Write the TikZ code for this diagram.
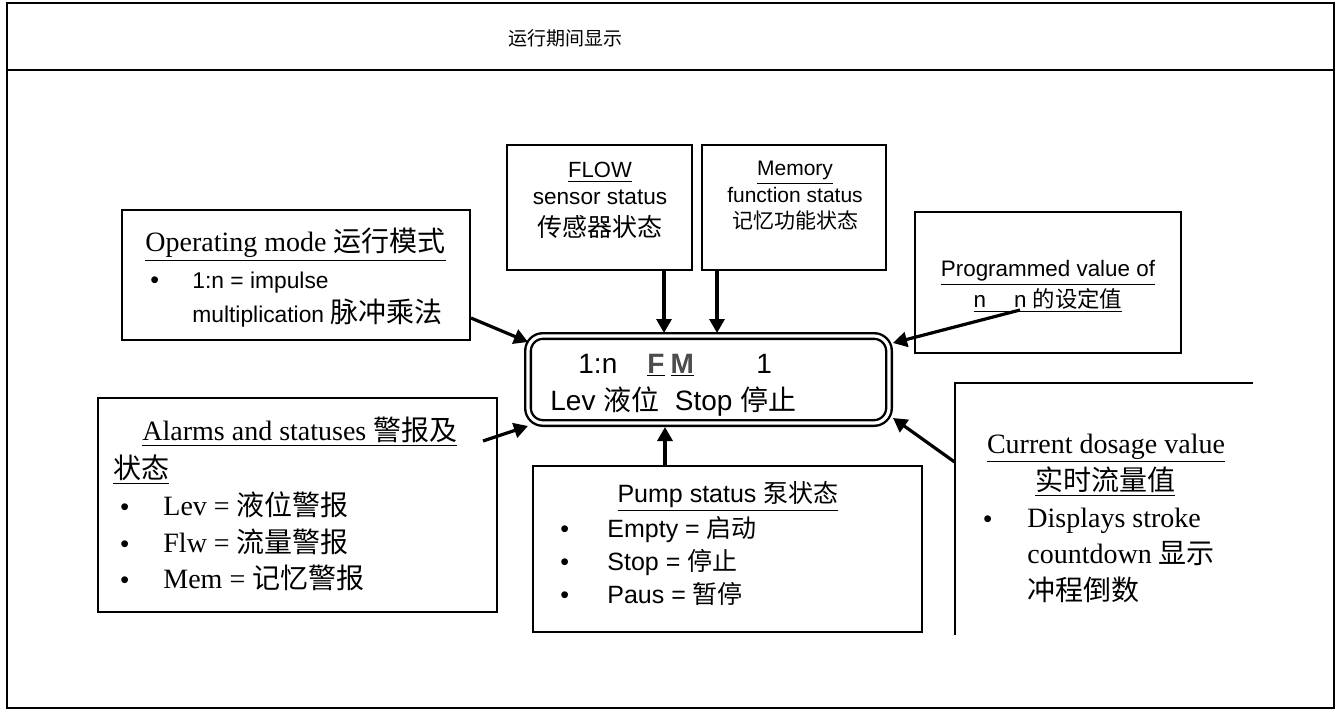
\documentclass[tikz,border=0pt]{standalone}
\usepackage{fontspec}
\setmainfont{Liberation Serif}
\setsansfont{Liberation Sans}
\newfontfamily\cjk{Noto Sans CJK SC}
\usetikzlibrary{arrows.meta,calc}
\newcommand{\zh}[1]{{\cjk #1}}
\newcommand{\lcdkey}[1]{{\bfseries\underline{\textcolor{black!70}{#1}}}}

\begin{document}
\begin{tikzpicture}[
  x=0.5pt,y=-0.5pt,
  box/.style={draw,line width=1pt,inner sep=0pt},
  arr/.style={line width=1.6pt,-{Triangle[length=7pt,width=7.5pt]}},
  txt/.style={inner sep=0pt,anchor=base west},
  ctxt/.style={inner sep=0pt,anchor=base},
  rmbig/.style={font=\fontsize{14}{17}\selectfont},
  sfmid/.style={font=\sffamily\fontsize{11.4}{14}\selectfont},
  sfbig/.style={font=\sffamily\fontsize{12.5}{15}\selectfont},
  lcd/.style={font=\sffamily\fontsize{14}{17}\selectfont},
]
\useasboundingbox (0,0) rectangle (1338,711);
% outer frame and header
\draw[line width=1.3pt] (7,3) rectangle (1334,708);
\draw[line width=1.3pt] (7,70) -- (1334,70);
\node[txt,font=\fontsize{9.5}{11}\selectfont] (title) at (508,46) {\zh{运行期间显示}};

% display
\node[draw,line width=1.2pt,double=white,double distance=1.6pt,rounded corners=7.5pt,
  minimum width=180.5pt,minimum height=43.5pt,inner sep=0pt] (lcdbox) at (708.5,379.5) {};
\node[txt,lcd] (lcdA) at (578,373) {1:n};
\node[txt,lcd] (lcdF) at (647,373) {\lcdkey{F}\kern3pt\lcdkey{M}};
\node[txt,lcd] (lcdN) at (756,373) {1};
\node[txt,lcd] (lcdB) at (550,410) {Lev \zh{液位}\ \ Stop \zh{停止}};
\coordinate (tipOp) at (528,342);
\coordinate (tipAl) at (528,426);
\coordinate (tipF) at (664,333);
\coordinate (tipM) at (717,333);
\coordinate (tipP) at (665,427);
\coordinate (tipR) at (893,343);
\coordinate (tipC) at (893,418);

% operating mode
\node[box,minimum width=174pt,minimum height=65pt] (opmode) at (296,275) {};
\node[txt,rmbig] (opT) at (145,252) {\underline{Operating mode \zh{运行模式}}};
\node[txt,sfbig] (opB) at (150,288) {\textbullet};
\node[txt,sfmid] (op1) at (192,288) {1:n = impulse};
\node[txt,sfmid] (op2) at (192,322) {multiplication \fontsize{14}{17}\selectfont\zh{脉冲乘法}};

% alarms
\node[box,minimum width=199.5pt,minimum height=107pt] (alarms) at (297.5,505) {};
\node[txt,rmbig] (alT1) at (142,440) {\underline{Alarms and statuses \zh{警报及}}};
\node[txt,rmbig] (alT2) at (113,478) {\underline{\zh{状态}}};
\foreach \yy/\txtline [count=\i] in {515/Lev = \zh{液位警报},552/Flw = \zh{流量警报},588/Mem = \zh{记忆警报}}{
  \node[txt,sfbig] (alB\i) at (120,\yy) {\textbullet};
  \node[txt,rmbig] (alL\i) at (163,\yy) {\txtline};
}

% flow
\node[box,minimum width=92.5pt,minimum height=62.5pt] (flow) at (599.5,207.5) {};
\node[ctxt,font=\sffamily\fontsize{11}{13}\selectfont] (flT) at (600,178) {\underline{FLOW}};
\node[ctxt,font=\sffamily\fontsize{11.3}{13}\selectfont] (fl1) at (600,205) {sensor status};
\node[ctxt,font=\fontsize{12.5}{15}\selectfont] (fl2) at (600,237) {\zh{传感器状态}};

% memory
\node[box,minimum width=92pt,minimum height=62.5pt] (memory) at (794,207.5) {};
\node[ctxt,font=\sffamily\fontsize{10.5}{13}\selectfont] (meT) at (795,176) {\underline{Memory}};
\node[ctxt,font=\sffamily\fontsize{10.5}{13}\selectfont] (me1) at (795,203) {function status};
\node[ctxt,font=\fontsize{10.5}{13}\selectfont] (me2) at (795,228) {\zh{记忆功能状态}};

% programmed value
\node[box,minimum width=133pt,minimum height=70.5pt] (prog) at (1048,282.5) {};
\node[ctxt,font=\sffamily\fontsize{11.2}{13}\selectfont] (prT) at (1048,277) {\underline{Programmed value of}};
\node[ctxt,font=\sffamily\fontsize{11.2}{13}\selectfont] (pr1) at (1048,307) {\underline{n\hspace{14pt}n \zh{的设定值}}};

% pump status
\node[box,minimum width=194.5pt,minimum height=83pt] (pump) at (727.5,549) {};
\node[ctxt,sfbig] (puT) at (728,502) {\underline{Pump status \zh{泵状态}}};
\foreach \yy/\txtline [count=\i] in {537/Empty = \zh{启动},570/Stop = \zh{停止},603/Paus = \zh{暂停}}{
  \node[txt,sfbig] (puB\i) at (560,\yy) {\textbullet};
  \node[txt,sfbig] (puL\i) at (607,\yy) {\txtline};
}

% current dosage value
\node[minimum width=149pt,minimum height=126pt,inner sep=0pt] (cur) at (1104,509) {};
\draw[line width=1pt] (cur.south west) -- (cur.north west) -- (cur.north east);
\node[ctxt,rmbig] (cuT1) at (1106,453) {\underline{Current dosage value}};
\node[ctxt,rmbig] (cuT2) at (1105,490) {\underline{\zh{实时流量值}}};
\node[txt,sfbig] (cuB) at (983,527) {\textbullet};
\node[txt,rmbig] (cu1) at (1027,527) {Displays stroke};
\node[txt,rmbig] (cu2) at (1027,563) {countdown \zh{显示}};
\node[txt,rmbig] (cu3) at (1027,600) {\zh{冲程倒数}};

% connectors
\draw[arr] ($(opmode.east)+(0,43)$) -- (tipOp);
\draw[arr] ($(alarms.north east)+(-15,44)$) -- (tipAl);
\draw[arr] (flow.south -| tipF) -- (tipF);
\draw[arr] (memory.south -| tipM) -- (tipM);
\draw[arr] (pump.north -| tipP) -- (tipP);
\draw[arr] ($(prog.center)+(-28,27.5)$) -- (tipR);
\draw[arr] ($(cur.west)+(0,-47)$) -- (tipC);
\end{tikzpicture}
\end{document}
